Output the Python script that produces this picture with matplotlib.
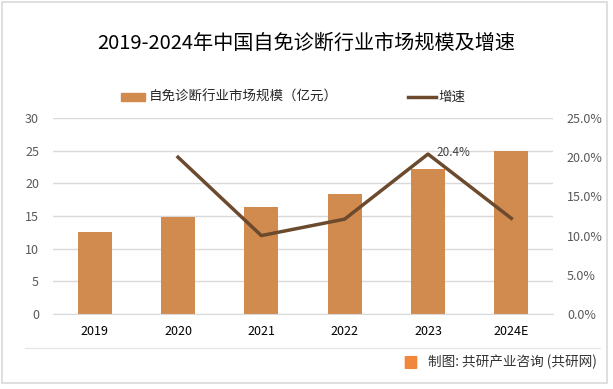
import matplotlib.pyplot as plt
from matplotlib.patches import Rectangle, FancyBboxPatch
from matplotlib.lines import Line2D

plt.rcParams['font.family'] = ['Noto Sans CJK SC', 'DejaVu Sans']

years = ['2019', '2020', '2021', '2022', '2023', '2024E']
market = [12.5, 14.9, 16.4, 18.4, 22.2, 25.0]
growth_years = [1, 2, 3, 4, 5]
growth = [20.0, 10.0, 12.1, 20.4, 12.2]

W, H = 613, 389
fig = plt.figure(figsize=(W / 100, H / 100), dpi=100)

# frames
fig.patches.append(Rectangle((2 / W, 6 / H), 605 / W, 381 / H, transform=fig.transFigure,
                             fill=False, edgecolor='#d9d9d9', linewidth=1.2))
fig.lines.append(Line2D([25 / W, 600 / W], [1 - 348 / H, 1 - 348 / H], transform=fig.transFigure,
                        color='#e6e6e6', linewidth=1))

ax = fig.add_axes([53 / W, 1 - 314 / H, 500 / W, 196 / H])
ax2 = ax.twinx()

x = range(len(years))
ax.bar(x, market, width=0.41, color='#d28b4e', zorder=2)
ax.set_ylim(0, 30)
ax.set_yticks(range(0, 31, 5))
ax.set_xlim(-0.5, 5.5)
ax.set_xticks(list(x))
ax.set_xticklabels(years, color='#000000', fontsize=9)
ax.tick_params(axis='y', labelcolor='#595959', labelsize=9, length=0, pad=10)
ax.tick_params(axis='x', length=0, pad=8)
ax.grid(axis='y', color='#d9d9d9', linewidth=1, zorder=0)
ax.set_axisbelow(True)
for s in ax.spines.values():
    s.set_visible(False)
ax.spines['bottom'].set_visible(True)
ax.spines['bottom'].set_color('#d9d9d9')

ax2.plot(growth_years, growth, color='#6b4a2e', linewidth=2.5, zorder=3)
ax2.set_ylim(0, 25)
ax2.set_yticks(range(0, 26, 5))
ax2.set_yticklabels([f'{v:.1f}%' for v in range(0, 26, 5)])
ax2.tick_params(axis='y', labelcolor='#595959', labelsize=9, length=0, pad=10)
for s in ax2.spines.values():
    s.set_visible(False)
ax2.annotate(f'{growth[3]:.1f}%', (growth_years[3], growth[3]), xytext=(6, 1),
             textcoords='offset points', fontsize=8.5, color='#404040', va='center', ha='left')

fig.text(0.5, 1 - 43 / H, '2019-2024年中国自免诊断行业市场规模及增速', ha='center', va='center',
         fontsize=14.5, color='#000000')

# legend
fig.patches.append(Rectangle((121 / W, 1 - 101 / H), 24 / W, 8 / H, transform=fig.transFigure,
                             color='#d28b4e'))
fig.text(149 / W, 1 - 97 / H, '自免诊断行业市场规模（亿元）', ha='left', va='center', fontsize=9.7,
         color='#262626')
fig.lines.append(Line2D([408 / W, 436 / W], [1 - 97 / H, 1 - 97 / H], transform=fig.transFigure,
                        color='#6b4a2e', linewidth=2.5))
fig.text(438 / W, 1 - 97 / H, '增速', ha='left', va='center', fontsize=9.7, color='#262626')

# footer
fig.patches.append(FancyBboxPatch((406 / W, 1 - 368 / H), 10 / W, 11 / H, transform=fig.transFigure,
                                  boxstyle='round,pad=0.001', color='#f0873a'))
fig.text(428 / W, 1 - 362 / H, '制图: 共研产业咨询 (共研网)', ha='left', va='center', fontsize=9.8,
         color='#333333')

fig.savefig('out.png', dpi=100)
